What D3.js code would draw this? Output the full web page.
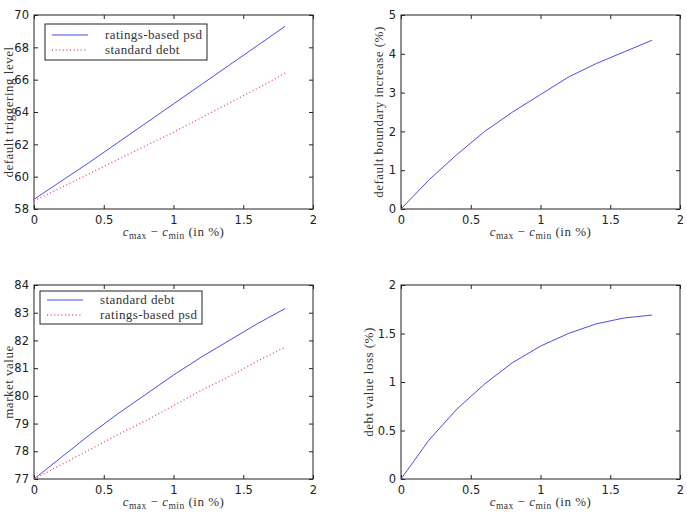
<!DOCTYPE html>
<html lang="en">
<head>
    <meta charset="utf-8">
    <title>Default boundary and debt value</title>
    <script src="https://cdn.jsdelivr.net/npm/d3@7"></script>
    <style>
        body { margin: 0; background: #fff; }
        .tick text { font-family: "DejaVu Sans", sans-serif; font-size: 11.5px; fill: #222; }
        .lab { font-family: "Liberation Serif", "Times New Roman", serif; font-size: 13px; fill: #333; letter-spacing: 0.5px; }
    </style>
</head>
<body>
<script>
    // spread c_max - c_min (in %)
    var spread = [0, 0.2, 0.4, 0.6, 0.8, 1.0, 1.2, 1.4, 1.6, 1.8];

    // top left: default triggering level
    var trigPsd = [58.6, 59.75, 60.9, 62.1, 63.3, 64.5, 65.7, 66.9, 68.1, 69.3];
    var trigStd = [58.5, 59.35, 60.2, 61.05, 61.9, 62.75, 63.65, 64.55, 65.45, 66.4];

    // top right: default boundary increase (%)
    var boundInc = [0, 0.75, 1.4, 2.0, 2.5, 2.95, 3.4, 3.75, 4.05, 4.35];

    // bottom left: market value
    var mvStd = [77.0, 77.8, 78.6, 79.35, 80.05, 80.75, 81.4, 82.0, 82.6, 83.15];
    var mvPsd = [77.0, 77.53, 78.06, 78.6, 79.1, 79.65, 80.2, 80.7, 81.25, 81.75];

    // bottom right: debt value loss (%)
    var debtLoss = [0, 0.4, 0.72, 0.98, 1.2, 1.37, 1.5, 1.6, 1.66, 1.69];

    var xTicks = [0, 0.5, 1, 1.5, 2];

    var svg = d3.select("body").append("svg")
        .attr("width", 687)
        .attr("height", 526);

    var solid = { color: "#4b4bea", dash: null, width: 1 };
    var dotted = { color: "#f0506e", dash: "1,2.6", width: 1.4 };

    function panel(opt) {
        var g = svg.append("g").attr("transform", "translate(" + opt.x + "," + opt.y + ")");
        var w = opt.w, h = opt.h;
        var x = d3.scaleLinear().domain([0, 2]).range([0, w]);
        var y = d3.scaleLinear().domain(opt.yDomain).range([h, 0]);

        // inward ticks on all four sides, matlab style
        g.append("g").attr("transform", "translate(0," + h + ")")
            .call(d3.axisBottom(x).tickValues(xTicks).tickSizeInner(-4).tickSizeOuter(0).tickPadding(7).tickFormat(d3.format("")));
        g.append("g")
            .call(d3.axisTop(x).tickValues(xTicks).tickSizeInner(-4).tickSizeOuter(0).tickFormat(""));
        g.append("g")
            .call(d3.axisLeft(y).tickValues(opt.yTicks).tickSizeInner(-4).tickSizeOuter(0).tickPadding(5).tickFormat(d3.format("")));
        g.append("g").attr("transform", "translate(" + w + ",0)")
            .call(d3.axisRight(y).tickValues(opt.yTicks).tickSizeInner(-4).tickSizeOuter(0).tickFormat(""));
        g.selectAll(".domain").remove();
        g.selectAll(".tick line").attr("stroke", "#222");
        g.append("rect").attr("width", w).attr("height", h)
            .attr("fill", "none").attr("stroke", "#222").attr("stroke-width", 1);

        var line = d3.line().x(function (d, i) { return x(spread[i]); }).y(function (d) { return y(d); });
        opt.series.forEach(function (s) {
            g.append("path").datum(s.values)
                .attr("fill", "none")
                .attr("stroke", s.style.color)
                .attr("stroke-width", s.style.width)
                .attr("stroke-dasharray", s.style.dash)
                .attr("d", line);
        });

        // y label
        g.append("text").attr("class", "lab")
            .attr("transform", "translate(" + opt.yLabX + "," + (h / 2) + ") rotate(-90)")
            .attr("text-anchor", "middle")
            .text(opt.yLabel);

        // x label
        var xl = g.append("text").attr("class", "lab")
            .attr("x", w / 2).attr("y", h + 27)
            .attr("text-anchor", "middle");
        xl.append("tspan").attr("font-style", "italic").text("c");
        xl.append("tspan").attr("font-size", "9.5px").attr("dy", 3).text("max");
        xl.append("tspan").attr("dy", -3).text(" \u2212 ");
        xl.append("tspan").attr("font-style", "italic").text("c");
        xl.append("tspan").attr("font-size", "9.5px").attr("dy", 3).text("min");
        xl.append("tspan").attr("dy", -3).text(" (in %)");

        if (opt.legend) {
            var L = opt.legend;
            var lg = g.append("g").attr("transform", "translate(" + L.x + "," + L.y + ")");
            lg.append("rect").attr("width", L.w).attr("height", L.h)
                .attr("fill", "#fff").attr("stroke", "#222");
            opt.series.forEach(function (s, i) {
                var yy = L.row0 + i * 15;
                lg.append("line").attr("x1", 7).attr("x2", 43).attr("y1", yy).attr("y2", yy)
                    .attr("stroke", s.style.color).attr("stroke-width", s.style.width)
                    .attr("stroke-dasharray", s.style.dash);
                lg.append("text").attr("class", "lab").attr("font-size", "12px")
                    .style("letter-spacing", "0.4px")
                    .attr("x", L.tx).attr("y", yy + 4).text(s.name);
            });
        }
    }

    panel({
        x: 34, y: 15, w: 279, h: 194,
        yDomain: [58, 70], yTicks: [58, 60, 62, 64, 66, 68, 70],
        yLabel: "default triggering level", yLabX: -21,
        series: [
            { name: "ratings-based psd", values: trigPsd, style: solid },
            { name: "standard debt", values: trigStd, style: dotted }
        ],
        legend: { x: 11, y: 9, w: 162, h: 36, tx: 60, row0: 11 }
    });

    panel({
        x: 401, y: 15, w: 279, h: 194,
        yDomain: [0, 5], yTicks: [0, 1, 2, 3, 4, 5],
        yLabel: "default boundary increase (%)", yLabX: -18,
        series: [{ name: "", values: boundInc, style: solid }]
    });

    panel({
        x: 34, y: 285, w: 279, h: 194,
        yDomain: [77, 84], yTicks: [77, 78, 79, 80, 81, 82, 83, 84],
        yLabel: "market value", yLabX: -21,
        series: [
            { name: "standard debt", values: mvStd, style: solid },
            { name: "ratings-based psd", values: mvPsd, style: dotted }
        ],
        legend: { x: 6, y: 6, w: 162, h: 33, tx: 60, row0: 9 }
    });

    panel({
        x: 401, y: 285, w: 279, h: 194,
        yDomain: [0, 2], yTicks: [0, 0.5, 1, 1.5, 2],
        yLabel: "debt value loss (%)", yLabX: -28,
        series: [{ name: "", values: debtLoss, style: solid }]
    });
</script>
</body>
</html>
